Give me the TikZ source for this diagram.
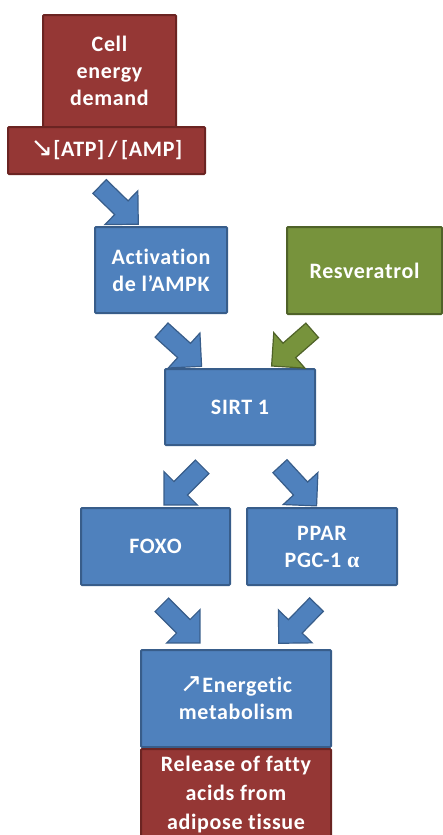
\documentclass[tikz,border=0pt]{standalone}
\usepackage{fontspec}
\setmainfont{Carlito}[LetterSpace=3, Ligatures=NoCommon]
\newfontfamily\arrowfont{DejaVu Sans}
\newfontfamily\greekfont{Liberation Serif}
\usetikzlibrary{shapes.arrows}
\definecolor{redfill}{HTML}{953735}
\definecolor{redline}{HTML}{6B2422}
\definecolor{bluefill}{HTML}{4F81BD}
\definecolor{blueline}{HTML}{385D8A}
\definecolor{greenfill}{HTML}{77933C}
\definecolor{greenline}{HTML}{4F6228}
\begin{document}
\begin{tikzpicture}[x=1pt,y=-1pt,
    box/.style={line width=2pt, rounded corners=1pt, text=white, align=center,
      inner sep=0pt, font=\fontsize{22}{27}\selectfont\bfseries},
    redbox/.style={box, draw=redline, fill=redfill},
    bluebox/.style={box, draw=blueline, fill=bluefill},
    greenbox/.style={box, draw=greenline, fill=greenfill},
    bigarrow/.style={single arrow, line width=1.2pt, minimum height=54pt,
      inner xsep=0pt, inner ysep=9pt, text height=0pt, text depth=0pt,
      single arrow head extend=14pt, single arrow tip angle=90,
      sloped, allow upside down, midway},
    bluearrow/.style={bigarrow, draw=blueline, fill=bluefill},
    greenarrow/.style={bigarrow, draw=greenline, fill=greenfill}]
  \useasboundingbox (0,0) rectangle (443,835);
  % boxes
  \node[redbox, minimum width=133pt, minimum height=112pt] (demand) at (109.5,71) {Cell\\energy\\demand};
  \node[redbox, minimum width=197pt, minimum height=47pt] (atp) at (106.5,150.5) {{\arrowfont\mdseries\fontsize{27}{27}\selectfont↘}[ATP]\,/\,[AMP]};
  \node[bluebox, minimum width=132pt, minimum height=86pt] (ampk) at (161,270) {Activation\\de l’AMPK};
  \node[greenbox, minimum width=155pt, minimum height=87pt] (resv) at (364.5,270.5) {Resveratrol};
  \node[bluebox, minimum width=150pt, minimum height=76pt] (sirt) at (240,407) {SIRT 1};
  \node[bluebox, minimum width=149pt, minimum height=77pt] (foxo) at (155.5,546.5) {FOXO};
  \node[bluebox, minimum width=150pt, minimum height=77pt] (ppar) at (322,546.5) {PPAR\\PGC-1 {\greekfont α}};
  \node[bluebox, minimum width=190pt, minimum height=97pt] (meta) at (236,698.5) {{\arrowfont\mdseries\fontsize{27}{27}\selectfont↗}Energetic\\metabolism};
  \node[redbox, minimum width=190pt, minimum height=91pt, font=\fontsize{22}{29}\selectfont\bfseries] (fatty) at (236,794.5) {Release of fatty\\acids from\\adipose tissue};
  % arrow ends
  \coordinate (atp-t) at (96,183);   \coordinate (ampk-h) at (135,221);
  \coordinate (ampk-t) at (157,326); \coordinate (sirt-hl) at (199,364);
  \coordinate (resv-t) at (316,327); \coordinate (sirt-hr) at (275,363);
  \coordinate (sirt-tl) at (206,463); \coordinate (foxo-h) at (167,502);
  \coordinate (sirt-tr) at (277,463); \coordinate (ppar-h) at (313,502);
  \coordinate (foxo-t) at (158,601); \coordinate (meta-hl) at (197,640);
  \coordinate (ppar-t) at (320,601); \coordinate (meta-hr) at (282,640);
  % arrows
  \path (atp-t) -- node[bluearrow] {} (ampk-h);
  \path (ampk-t) -- node[bluearrow] {} (sirt-hl);
  \path (resv-t) -- node[greenarrow] {} (sirt-hr);
  \path (sirt-tl) -- node[bluearrow] {} (foxo-h);
  \path (sirt-tr) -- node[bluearrow] {} (ppar-h);
  \path (foxo-t) -- node[bluearrow] {} (meta-hl);
  \path (ppar-t) -- node[bluearrow] {} (meta-hr);
\end{tikzpicture}
\end{document}
